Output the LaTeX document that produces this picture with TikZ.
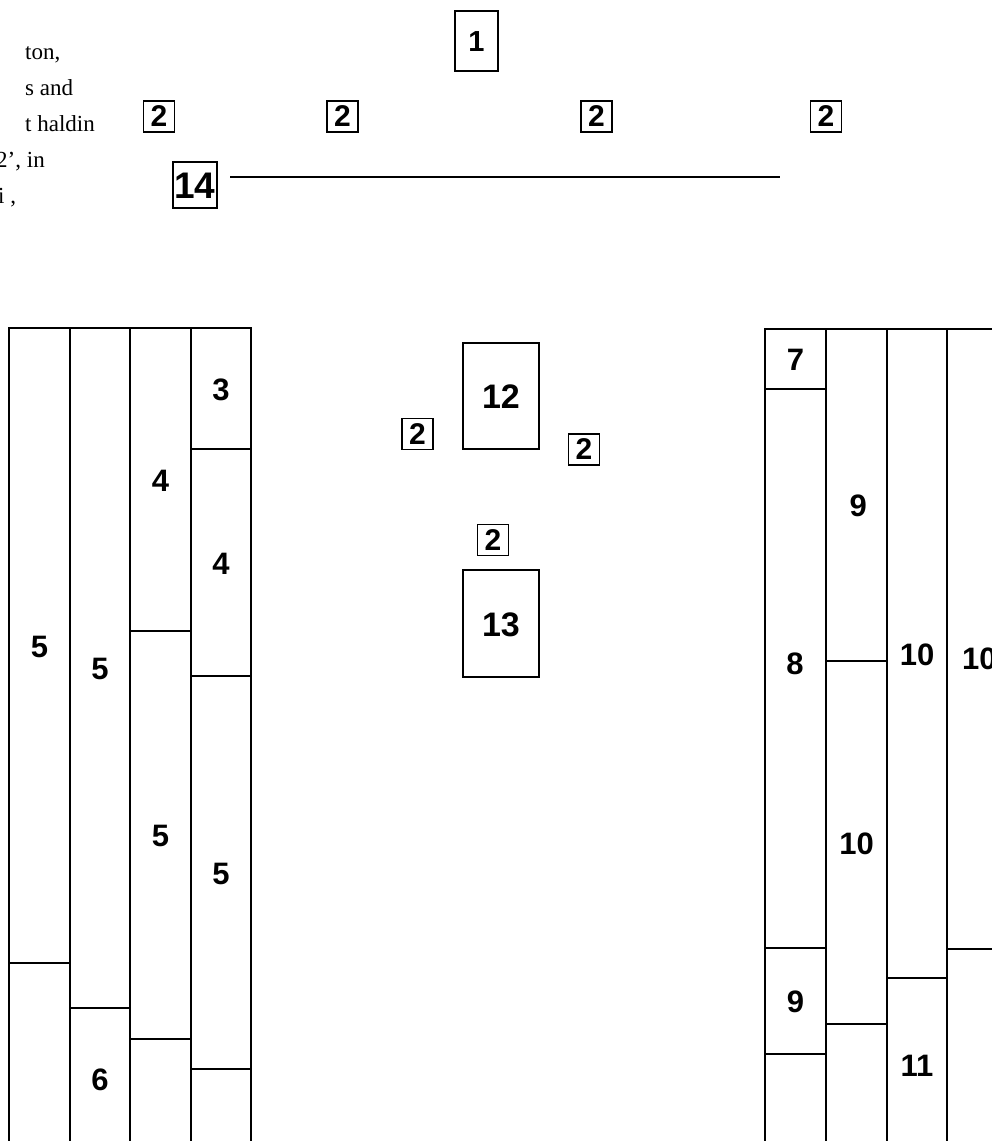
\documentclass[tikz,border=0pt]{standalone}
\usepackage{fontspec}
\setmainfont{Liberation Serif}
\newfontfamily\numfont{Liberation Sans}
\tikzset{
  wall/.style={line width=1.6pt},
  cell/.style={inner sep=0pt,yshift=-1pt,
    font=\numfont\bfseries\fontsize{31}{31}\selectfont},
  tag/.style={draw,line width=1.4pt,minimum size=31pt,inner sep=0pt,
    font=\numfont\bfseries\fontsize{30}{30}\selectfont},
  prose/.style={anchor=base west,inner sep=0pt,
    font=\fontsize{23}{26}\selectfont}
}

\begin{document}
\begin{tikzpicture}[x=1pt,y=-1pt]
  \path[use as bounding box] (0,0) rectangle (992,1141);
  \clip (0,0) rectangle (992,1141);
  % text running in from the left edge
  \node[prose] (p1) at (25,59) {ton,};
  \node[prose] (p2) at (25,95) {s and};
  \node[prose] (p3) at (25,131) {t haldin};
  \node[prose] (p4) at (-4,167) {2’, in};
  \node[prose] (p5) at (-2,203) {i ,};
  % top row
  \draw[wall] (455,11) rectangle (498,71)
    node[pos=0.5,cell,font=\numfont\bfseries\fontsize{29}{29}\selectfont] (b1) {1};
  \node[tag] (t1) at (159,116.5) {2};
  \node[tag] (t2) at (342.5,116.5) {2};
  \node[tag] (t3) at (596.5,116.5) {2};
  \node[tag] (t4) at (826,116.5) {2};
  \draw[wall] (173,162) rectangle (217,208)
    node[pos=0.5,cell,font=\numfont\bfseries\fontsize{37}{37}\selectfont] (b14) {14};
  \coordinate (l14a) at (230,177);
  \coordinate (l14b) at (780,177);
  \draw[wall] (l14a) -- (l14b);
  % middle
  \draw[wall] (463,343) rectangle (539,449)
    node[pos=0.5,cell,font=\numfont\bfseries\fontsize{34}{34}\selectfont] (b12) {12};
  \draw[wall] (463,570) rectangle (539,677)
    node[pos=0.5,cell,font=\numfont\bfseries\fontsize{34}{34}\selectfont] (b13) {13};
  \node[tag] (t5) at (417.5,434) {2};
  \node[tag] (t6) at (584,449.5) {2};
  \node[tag] (t7) at (493,540) {2};
  % left block
  \draw[wall] (9,328) rectangle (70,963) node[pos=0.5,cell] (la) {5};
  \draw[wall] (9,963) rectangle (70,1160);
  \draw[wall] (70,328) rectangle (130,1008) node[pos=0.5,cell] (lb) {5};
  \draw[wall] (70,1008) rectangle (130,1150) node[pos=0.5,cell] (lc) {6};
  \draw[wall] (130,328) rectangle (191,631) node[pos=0.5,cell] (ld) {4};
  \draw[wall] (130,631) rectangle (191,1039) node[pos=0.5,cell] (le) {5};
  \draw[wall] (130,1039) rectangle (191,1160);
  \draw[wall] (191,328) rectangle (251,449) node[pos=0.5,cell] (lf) {3};
  \draw[wall] (191,449) rectangle (251,676) node[pos=0.5,cell] (lg) {4};
  \draw[wall] (191,676) rectangle (251,1069) node[pos=0.5,cell] (lh) {5};
  \draw[wall] (191,1069) rectangle (251,1160);
  % right block
  \draw[wall] (765,329) rectangle (826,389) node[pos=0.5,cell] (ra) {7};
  \draw[wall] (765,389) rectangle (826,948) node[pos=0.49,cell] (rb) {8};
  \draw[wall] (765,948) rectangle (826,1054) node[pos=0.5,cell] (rc) {9};
  \draw[wall] (765,1054) rectangle (826,1160);
  \draw[wall] (826,329) rectangle (887,661) node[pos=0.53,cell] (rd) {9};
  \draw[wall] (826,661) rectangle (887,1024) node[pos=0.5,cell] (re) {10};
  \draw[wall] (826,1024) rectangle (887,1160);
  \draw[wall] (887,329) rectangle (947,978) node[pos=0.5,cell] (rf) {10};
  \draw[wall] (887,978) rectangle (947,1152) node[pos=0.5,cell] (rg) {11};
  \draw[wall] (947,329) rectangle (1008,949) node[pos=0.53,cell] (rh) {10};
  \draw[wall] (947,949) rectangle (1008,1160);
\end{tikzpicture}
\end{document}
